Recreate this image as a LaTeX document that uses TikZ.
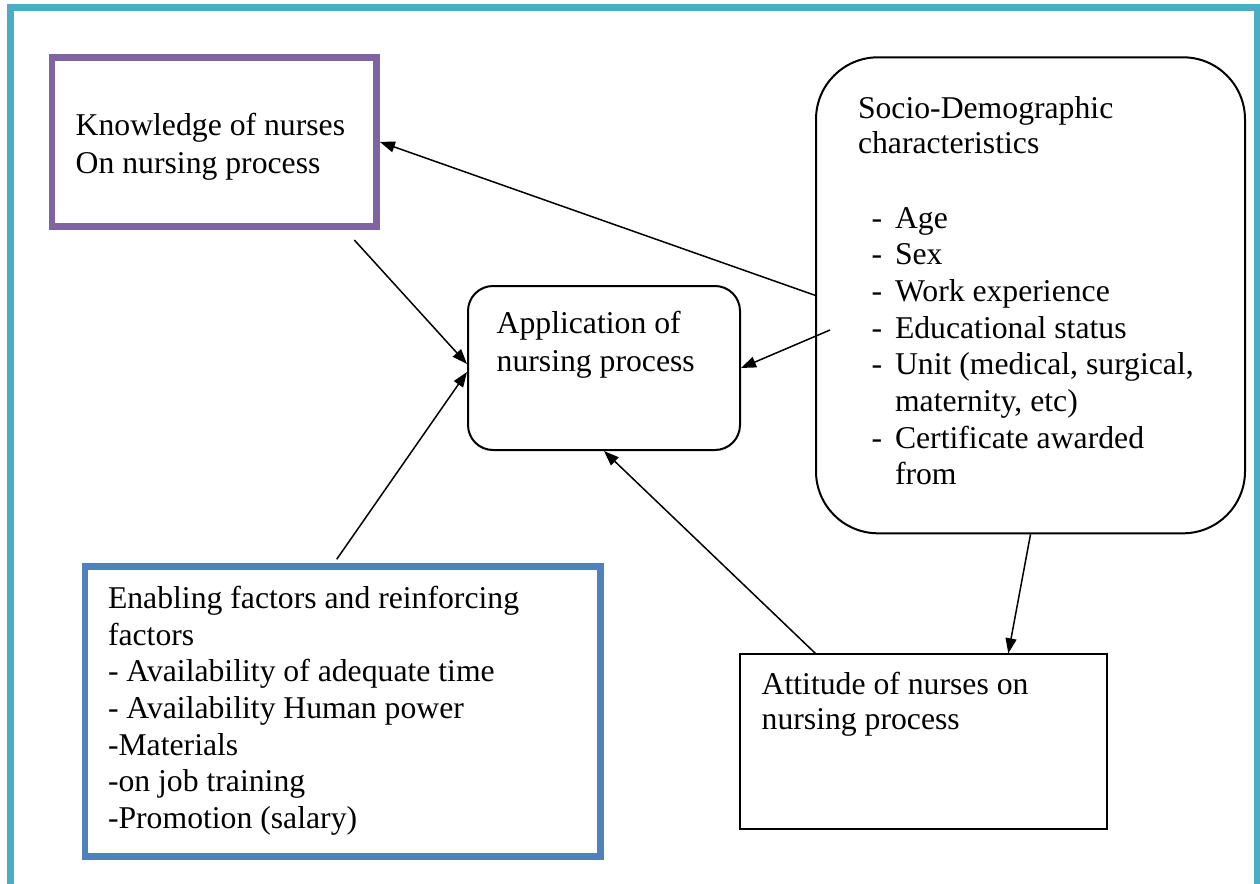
\documentclass[tikz,border=0pt]{standalone}
\usepackage{fontspec}
\setmainfont{Liberation Serif}
\usetikzlibrary{arrows.meta}
\definecolor{frameteal}{HTML}{4BACC6}
\definecolor{knowpurple}{HTML}{8064A2}
\definecolor{enableblue}{HTML}{4F81BD}
% body text size with a chosen line distance
\newcommand\bodysize[1]{\fontsize{31.7}{#1}\selectfont}
\begin{document}
\begin{tikzpicture}[x=1pt,y=-1pt,
  box/.style={draw, rectangle, inner sep=0pt},
  txt/.style={anchor=base west, inner sep=0pt, outer sep=0pt},
  link/.style={line width=1.5pt, -{Triangle[length=15pt,width=11pt]}}]
\useasboundingbox (0,0) rectangle (1260,883);
\clip (0,0) rectangle (1260,883);
\fill[white] (0,0) rectangle (1260,883);

% outer frame (open at the bottom of the page)
\draw[frameteal, line width=7pt] (10.7,7.3) rectangle (1257,930);

% boxes
\node[box, draw=knowpurple, line width=6.5pt, minimum width=324.7pt, minimum height=168.8pt]
  (know) at (214.35,141.9) {};
\node[box, line width=2pt, rounded corners=25pt, minimum width=272pt, minimum height=164pt]
  (app) at (604,368) {};
\node[box, line width=2pt, rounded corners=62pt, minimum width=429pt, minimum height=476pt]
  (socio) at (1030.5,295.3) {};
\node[box, draw=enableblue, line width=6.7pt, minimum width=515.8pt, minimum height=290.4pt]
  (enable) at (342.9,711.5) {};
\node[box, line width=2pt, minimum width=366.7pt, minimum height=175pt]
  (att) at (923.3,741.8) {};

% texts
\node[txt] (knowtxt) at (75.7,135) {\bodysize{38.3}%
  \begin{tabular}[t]{@{}l@{}}Knowledge of nurses\\On nursing process\end{tabular}};
\node[txt] (apptxt) at (496.7,333.3) {\bodysize{38.4}%
  \begin{tabular}[t]{@{}l@{}}Application of\\nursing process\end{tabular}};
\node[txt] (sociohead) at (858,118.3) {\bodysize{35}%
  \begin{tabular}[t]{@{}l@{}}Socio-Demographic\\characteristics\end{tabular}};
\node[txt] (sociolist) at (871.7,228.3) {\bodysize{36.67}%
  \begin{tabular}[t]{@{}l@{}}
  \makebox[23.3pt][l]{-}Age\\
  \makebox[23.3pt][l]{-}Sex\\
  \makebox[23.3pt][l]{-}Work experience\\
  \makebox[23.3pt][l]{-}Educational status\\
  \makebox[23.3pt][l]{-}Unit (medical, surgical,\\
  \hspace*{23.3pt}maternity, etc)\\
  \makebox[23.3pt][l]{-}Certificate awarded\\
  \hspace*{23.3pt}from
  \end{tabular}};
\node[txt] (enabletxt) at (108,608.3) {\bodysize{36.7}%
  \begin{tabular}[t]{@{}l@{}}
  Enabling factors and reinforcing\\
  factors\\
  - Availability of adequate time\\
  - Availability Human power\\
  -Materials\\
  -on job training\\
  -Promotion (salary)
  \end{tabular}};
\node[txt] (atttxt) at (761.7,694) {\bodysize{35.5}%
  \begin{tabular}[t]{@{}l@{}}Attitude of nurses on\\nursing process\end{tabular}};

% free ends of connectors
\coordinate (fromsocio) at (830,330);
\coordinate (belowknow) at (354.3,240);
\coordinate (aboveenable) at (336.7,559.3);

% connectors
\draw[link] (socio.west) -- (know.east);
\draw[link] (fromsocio) -- (app.east);
\draw[link] (belowknow) -- ([yshift=4pt]app.west);
\draw[link] (aboveenable) -- ([yshift=-4pt]app.west);
\draw[link] ([xshift=-108pt]att.north) -- (app.south);
\draw[link] (socio.south) -- ([xshift=85pt]att.north);
\end{tikzpicture}
\end{document}
